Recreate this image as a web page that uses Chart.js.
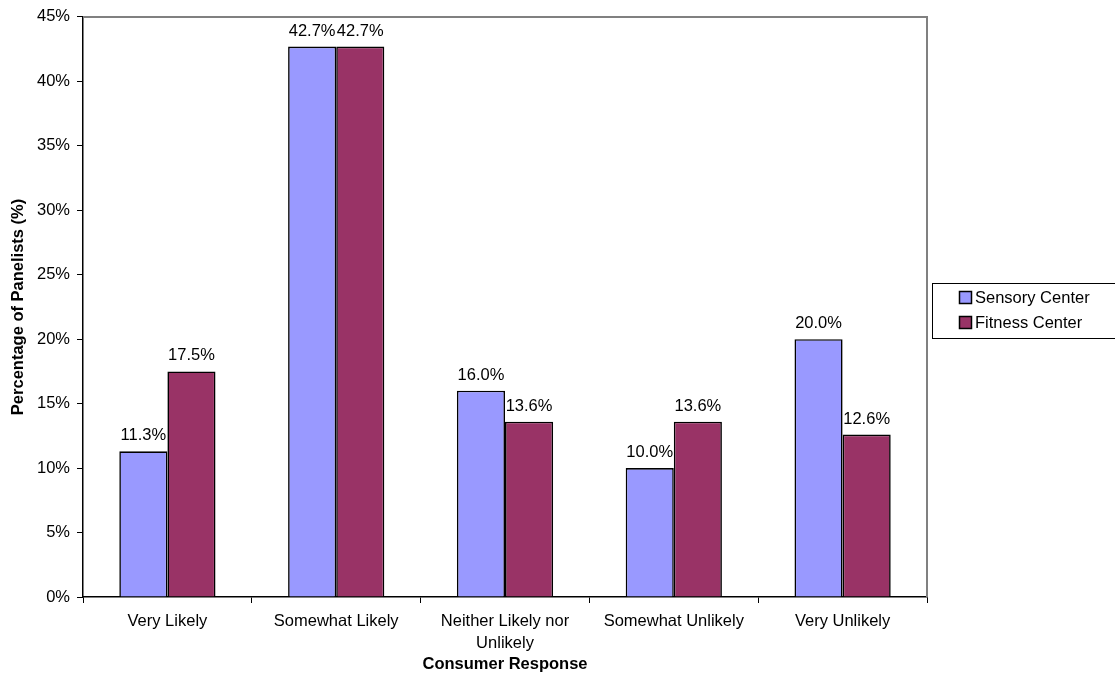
<!DOCTYPE html>
<html><head><meta charset="utf-8">
<script src="https://cdn.jsdelivr.net/npm/chart.js@4"></script>
<style>html,body{margin:0;padding:0;background:#fff;}#wrap{width:1115px;height:675px;}</style>
</head><body><div id="wrap"><canvas id="c" width="1115" height="675"></canvas></div>
<script>
const categories = ["Very Likely", "Somewhat Likely", ["Neither Likely nor", "Unlikely"], "Somewhat Unlikely", "Very Unlikely"];
const seriesNames = ["Sensory Center", "Fitness Center"];
const sensory = [11.3, 42.7, 16.0, 10.0, 20.0];
const fitness = [17.5, 42.7, 13.6, 13.6, 12.6];
const yTicks = [0, 5, 10, 15, 20, 25, 30, 35, 40, 45];
const colors = ["#9999FF", "#993366"];
const FONT = "'Liberation Sans', Arial, sans-serif";
const FS = 16.5;

const extras = {
  id: 'extras',
  afterDatasetsDraw(chart) {
    const ctx = chart.ctx, a = chart.chartArea;
    ctx.save();
    // grey top/right border
    ctx.strokeStyle = '#808080'; ctx.lineWidth = 2;
    ctx.beginPath(); ctx.moveTo(a.left, a.top); ctx.lineTo(a.right, a.top); ctx.lineTo(a.right, a.bottom); ctx.stroke();
    // data labels
    ctx.fillStyle = '#000'; ctx.font = FS + 'px ' + FONT; ctx.textAlign = 'center'; ctx.textBaseline = 'alphabetic';
    chart.data.datasets.forEach((ds, i) => {
      chart.getDatasetMeta(i).data.forEach((bar, j) => {
        ctx.fillText(ds.data[j].toFixed(1) + '%', bar.x, bar.y - 11);
      });
    });
    // legend
    const lx = 932, ly = 283, lw = 190, lh = 55;
    ctx.strokeStyle = '#000'; ctx.lineWidth = 1;
    ctx.strokeRect(lx + 0.5, ly + 0.5, lw, lh);
    ctx.textAlign = 'left'; ctx.textBaseline = 'middle';
    chart.data.datasets.forEach((ds, i) => {
      const cy = ly + 15 + i * 25;
      ctx.fillStyle = ds.backgroundColor;
      ctx.fillRect(lx + 27.5, cy - 6.5, 12, 12);
      ctx.lineWidth = 1.5;
      ctx.strokeRect(lx + 27.5, cy - 6.5, 12, 12);
      ctx.fillStyle = '#000';
      ctx.fillText(ds.label, lx + 43, cy);
    });
    ctx.restore();
  }
};

new Chart(document.getElementById('c'), {
  type: 'bar',
  data: {
    labels: categories,
    datasets: [
      { label: seriesNames[0], data: sensory, backgroundColor: colors[0], borderColor: '#000', borderWidth: 1.6, categoryPercentage: 0.57, barPercentage: 1 },
      { label: seriesNames[1], data: fitness, backgroundColor: colors[1], borderColor: '#000', borderWidth: 1.6, categoryPercentage: 0.57, barPercentage: 1 }
    ]
  },
  options: {
    responsive: false, animation: false, devicePixelRatio: 1,
    layout: { padding: { top: 16, right: 188, left: 0, bottom: 0 } },
    plugins: { legend: { display: false }, tooltip: { enabled: false } },
    scales: {
      x: {
        offset: true,
        afterFit: s => { s.height = 78; },
        grid: { offset: true, drawOnChartArea: false, tickLength: 6, color: '#000' },
        border: { color: '#000', width: 1.5 },
        ticks: { color: '#000', font: { family: FONT, size: FS, lineHeight: 1.3 }, padding: 8, maxRotation: 0, autoSkip: false },
        title: { display: true, text: 'Consumer Response', color: '#000', font: { family: FONT, size: FS, weight: 'bold' }, padding: { top: 0, bottom: 1 } }
      },
      y: {
        min: 0, max: 45,
        afterFit: s => { s.width = 83; },
        afterBuildTicks: s => { s.ticks = yTicks.map(v => ({ value: v })); },
        grid: { drawOnChartArea: false, tickLength: 6, color: '#000' },
        border: { color: '#000', width: 1.5 },
        ticks: { color: '#000', font: { family: FONT, size: FS }, padding: 7, callback: v => v + '%' },
        title: { display: true, text: 'Percentage of Panelists (%)', color: '#000', font: { family: FONT, size: FS, weight: 'bold' }, padding: { top: 9, bottom: 0 } }
      }
    }
  },
  plugins: [extras]
});
</script></body></html>
